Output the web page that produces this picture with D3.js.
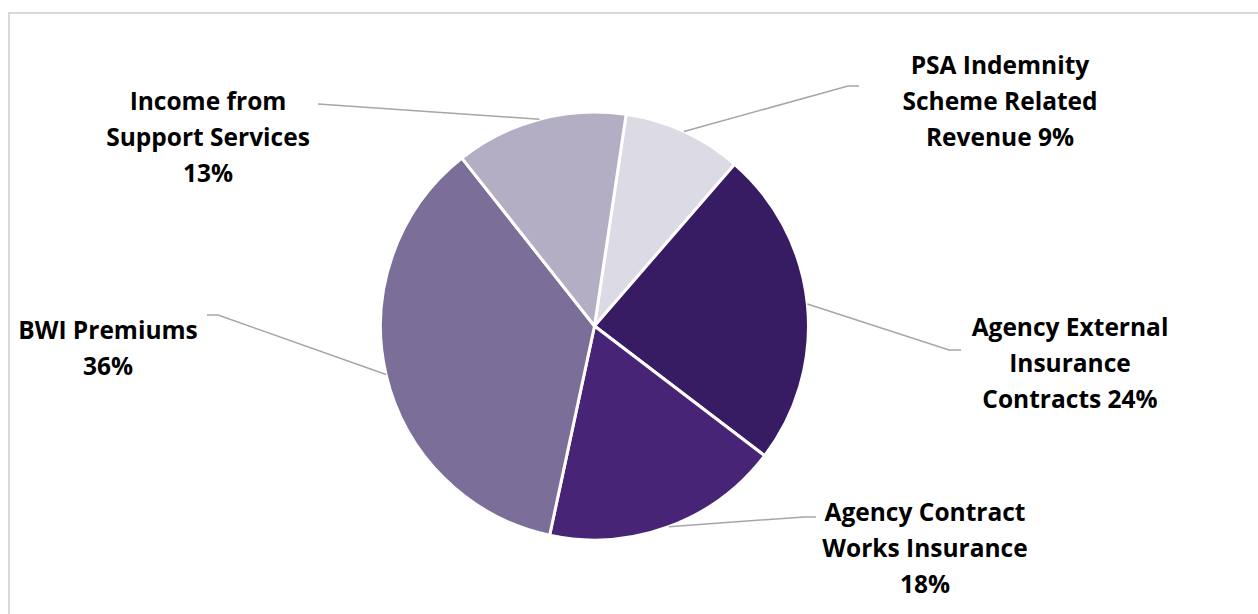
<!DOCTYPE html>
<html>
<head>
<meta charset="utf-8">
<script src="https://cdn.jsdelivr.net/npm/d3@7"></script>
<style>
  html, body { margin: 0; padding: 0; background: #ffffff; }
  svg { display: block; }
  text { font-family: "Open Sans", Lato, "Liberation Sans", sans-serif; font-weight: 700; fill: #000000; }
</style>
</head>
<body>
<svg id="chart" width="1258" height="614"></svg>
<script>
// Revenue breakdown, slices drawn clockwise
const categories = [
  "PSA Indemnity Scheme Related Revenue",
  "Agency External Insurance Contracts",
  "Agency Contract Works Insurance",
  "BWI Premiums",
  "Income from Support Services"
];
const shares = [9, 24, 18, 36, 13];
const sliceColors = ["#dcdae4", "#371b63", "#472476", "#7b6e99", "#b3aec4"];
// Label text as printed, one entry per line
const labelLines = [
  ["PSA Indemnity", "Scheme Related", "Revenue 9%"],
  ["Agency External", "Insurance", "Contracts 24%"],
  ["Agency Contract", "Works Insurance", "18%"],
  ["BWI Premiums", "36%"],
  ["Income from", "Support Services", "13%"]
];

const W = 1258, H = 614;
const cx = 594.5, cy = 326, R = 214;
const firstSliceAngle = 8.5 * Math.PI / 180;

const svg = d3.select("#chart");

// chart area frame
svg.append("rect")
  .attr("x", 9).attr("y", 13)
  .attr("width", W + 10).attr("height", H + 10)
  .attr("fill", "none")
  .attr("stroke", "#d9d9d9")
  .attr("stroke-width", 2);

const pie = d3.pie().sort(null)
  .startAngle(firstSliceAngle)
  .endAngle(firstSliceAngle + 2 * Math.PI);
const arcs = pie(shares);
const arc = d3.arc().innerRadius(0).outerRadius(R);

const g = svg.append("g").attr("transform", `translate(${cx},${cy})`);
g.selectAll("path.slice")
  .data(arcs)
  .join("path")
  .attr("class", "slice")
  .attr("d", arc)
  .attr("fill", (d, i) => sliceColors[i])
  .attr("stroke", "#ffffff")
  .attr("stroke-width", 3)
  .attr("stroke-linejoin", "round");

// Label placement: centre x, first baseline, and leader elbow/end
const labelLayout = [
  { x: 1000, y: 74,  elbow: [848, 86],  end: [859, 86] },
  { x: 1070, y: 336, elbow: [949, 350], end: [961, 350] },
  { x: 925,  y: 521, elbow: [804, 517], end: [816, 517] },
  { x: 108,  y: 339, elbow: [218, 315], end: [207, 315] },
  { x: 208,  y: 110, elbow: [318, 104], end: [318, 104] }
];

const lineGap = 36;
arcs.forEach((d, i) => {
  const L = labelLayout[i];
  // leader line starts on the rim at the slice's mid angle
  const a = (d.startAngle + d.endAngle) / 2;
  const sx = cx + R * Math.sin(a);
  const sy = cy - R * Math.cos(a);
  svg.append("polyline")
    .attr("points", [[sx, sy], L.elbow, L.end].map(p => p.join(",")).join(" "))
    .attr("fill", "none")
    .attr("stroke", "#a6a6a6")
    .attr("stroke-width", 1.5);

  const t = svg.append("text")
    .attr("text-anchor", "middle")
    .attr("font-size", 24.5);
  labelLines[i].forEach((line, k) => {
    t.append("tspan")
      .attr("x", L.x)
      .attr("y", L.y + k * lineGap)
      .text(line);
  });
});
</script>
</body>
</html>
